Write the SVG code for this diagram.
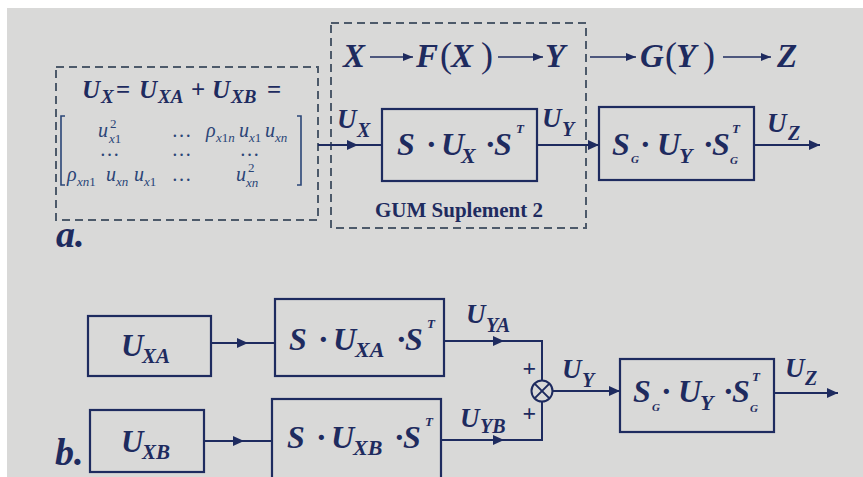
<svg xmlns="http://www.w3.org/2000/svg" width="863" height="477" viewBox="0 0 863 477">
<style>
.m{font-family:"Liberation Serif",serif;font-weight:bold;font-style:italic;fill:#1e2b5f}
.p{font-family:"Liberation Serif",serif;font-weight:normal;font-style:normal;fill:#1e2b5f}
.mx{font-family:"Liberation Serif",serif;font-style:italic;fill:#2a4577;font-size:20px}
.sm{font-size:13px}
.ln{stroke:#1e2b5f;stroke-width:2;fill:none}
.tn{stroke:#1e2b5f;stroke-width:1.6;fill:none}
.bx{stroke:#1e2b5f;stroke-width:2.2;fill:none}
.ds{stroke:#4d5a6a;stroke-width:2;stroke-dasharray:8 5;fill:none}
.gum{font-family:"Liberation Serif",serif;font-weight:bold;font-size:21px;fill:#1e2b5f}
</style>
<defs>
<marker id="ah" markerUnits="userSpaceOnUse" markerWidth="12" markerHeight="10" refX="11" refY="5" orient="auto">
<path d="M0,0 L11,5 L0,10 z" fill="#1e2b5f"/>
</marker>
<marker id="ahs" markerUnits="userSpaceOnUse" markerWidth="11" markerHeight="9" refX="10" refY="4" orient="auto">
<path d="M0,0 L10,4 L0,8 z" fill="#1e2b5f"/>
</marker>
</defs>
<rect x="0" y="0" width="863" height="477" fill="#ffffff"/>
<rect x="7" y="8" width="856" height="469" fill="#d9d9d8"/>

<!-- Part a -->
<g id="matrix-box">
<rect class="ds" x="56" y="67" width="262" height="153"/>
<text class="m" font-size="25"><tspan x="82" y="98">U</tspan><tspan x="101" y="103" font-size="19">X</tspan><tspan x="116" y="98" font-style="normal">=</tspan><tspan x="139" y="98">U</tspan><tspan x="158" y="103" font-size="19">XA</tspan><tspan x="191" y="98" font-style="normal">+</tspan><tspan x="212" y="98">U</tspan><tspan x="231" y="103" font-size="19">XB</tspan><tspan x="267" y="98" font-style="normal">=</tspan></text>
<path d="M65,116 H61 V185 H65" stroke="#2a4577" stroke-width="1.6" fill="none"/>
<path d="M297,116 H301 V185 H297" stroke="#2a4577" stroke-width="1.6" fill="none"/>
<text class="mx"><tspan x="98" y="137">u</tspan><tspan x="110" y="128" class="sm" font-style="normal">2</tspan><tspan x="109" y="143" class="sm">x</tspan><tspan class="sm" font-style="normal">1</tspan></text>
<text class="mx" text-anchor="middle"><tspan x="182" y="137">…</tspan></text>
<text class="mx"><tspan x="206" y="137">ρ</tspan><tspan x="216" y="142" class="sm">x</tspan><tspan class="sm" font-style="normal">1</tspan><tspan class="sm">n</tspan><tspan x="239" y="137">u</tspan><tspan x="249" y="142" class="sm">x</tspan><tspan class="sm" font-style="normal">1</tspan><tspan x="265" y="137">u</tspan><tspan x="275" y="142" class="sm">xn</tspan></text>
<text class="mx" text-anchor="middle"><tspan x="110" y="156">…</tspan><tspan x="182" y="156">…</tspan><tspan x="250" y="156">…</tspan></text>
<text class="mx"><tspan x="67" y="181">ρ</tspan><tspan x="77" y="186" class="sm">xn</tspan><tspan class="sm" font-style="normal">1</tspan><tspan x="106" y="181">u</tspan><tspan x="116" y="186" class="sm">xn</tspan><tspan x="134" y="181">u</tspan><tspan x="144" y="186" class="sm">x</tspan><tspan class="sm" font-style="normal">1</tspan></text>
<text class="mx" text-anchor="middle"><tspan x="182" y="181">…</tspan></text>
<text class="mx"><tspan x="236" y="181">u</tspan><tspan x="248" y="172" class="sm" font-style="normal">2</tspan><tspan x="246" y="187" class="sm">xn</tspan></text>
</g>

<g id="label-a">
<text class="m" font-size="38" x="56" y="247">a.</text>
</g>

<g id="gum-box">
<rect class="ds" x="331" y="23" width="255" height="205"/>
<text class="gum" x="459" y="217" text-anchor="middle">GUM Suplement 2</text>
</g>

<g id="top-row">
<text class="m" font-size="33" x="343" y="67">X</text>
<text font-size="33" y="67"><tspan class="m" x="416">F</tspan><tspan class="p" x="440" font-size="36">(</tspan><tspan class="m" x="451">X</tspan><tspan class="p" x="481" font-size="36">)</tspan></text>
<text class="m" font-size="33" x="545" y="67">Y</text>
<text font-size="33" y="67"><tspan class="m" x="640">G</tspan><tspan class="p" x="665" font-size="36">(</tspan><tspan class="m" x="676">Y</tspan><tspan class="p" x="703" font-size="36">)</tspan></text>
<text class="m" font-size="33" x="777" y="67">Z</text>
</g>

<g id="box-S-top">
<rect class="bx" x="382" y="109" width="155" height="72"/>
<text class="m" font-size="32"><tspan x="397" y="155">S</tspan><tspan x="426" y="155" font-style="normal">·</tspan><tspan x="441" y="155">U</tspan><tspan x="461" y="163" font-size="22">X</tspan><tspan x="485" y="155" font-style="normal">·</tspan><tspan x="494" y="155">S</tspan><tspan x="516" y="133" font-size="13">T</tspan></text>
</g>

<g id="box-SG-top">
<rect class="bx" x="599" y="107" width="155" height="73"/>
<text class="m" font-size="32"><tspan x="612" y="155">S</tspan><tspan x="631" y="163" font-size="11">G</tspan><tspan x="640" y="155" font-style="normal">·</tspan><tspan x="657" y="155">U</tspan><tspan x="679" y="163" font-size="22">Y</tspan><tspan x="703" y="155" font-style="normal">·</tspan><tspan x="712" y="155">S</tspan><tspan x="732" y="133" font-size="13">T</tspan><tspan x="730" y="164" font-size="11">G</tspan></text>
</g>

<!-- Part b -->
<g id="label-b">
<text class="m" font-size="38" x="55" y="465">b.</text>
</g>

<g id="box-UXA">
<rect class="bx" x="88" y="316" width="123" height="60"/>
<text class="m" font-size="31"><tspan x="121" y="356">U</tspan><tspan x="142" y="363" font-size="21">XA</tspan></text>
</g>

<g id="box-UXB">
<rect class="bx" x="90" y="410" width="114" height="62"/>
<text class="m" font-size="31"><tspan x="121" y="452">U</tspan><tspan x="142" y="459" font-size="21">XB</tspan></text>
</g>

<g id="box-S-A">
<rect class="bx" x="275" y="299" width="169" height="77"/>
<text class="m" font-size="32"><tspan x="289" y="350">S</tspan><tspan x="318" y="350" font-style="normal">·</tspan><tspan x="333" y="350">U</tspan><tspan x="355" y="357" font-size="22">XA</tspan><tspan x="396" y="350" font-style="normal">·</tspan><tspan x="405" y="350">S</tspan><tspan x="427" y="328" font-size="13">T</tspan></text>
</g>

<g id="box-S-B">
<rect class="bx" x="272" y="399" width="169" height="80"/>
<text class="m" font-size="32"><tspan x="287" y="448">S</tspan><tspan x="316" y="448" font-style="normal">·</tspan><tspan x="331" y="448">U</tspan><tspan x="353" y="455" font-size="22">XB</tspan><tspan x="394" y="448" font-style="normal">·</tspan><tspan x="403" y="448">S</tspan><tspan x="425" y="426" font-size="13">T</tspan></text>
</g>

<g id="sum-node">
<circle cx="542" cy="391" r="10.5" fill="none" stroke="#1e2b5f" stroke-width="2"/>
<path d="M534.6,383.6 L549.4,398.4 M549.4,383.6 L534.6,398.4" stroke="#1e2b5f" stroke-width="2"/>
<text class="m" font-size="24" font-style="normal" x="529" y="376" text-anchor="middle">+</text>
<text class="m" font-size="24" font-style="normal" x="529" y="421" text-anchor="middle">+</text>
</g>

<g id="box-SG-bottom">
<rect class="bx" x="620" y="359" width="154" height="73"/>
<text class="m" font-size="32"><tspan x="633" y="402">S</tspan><tspan x="652" y="411" font-size="11">G</tspan><tspan x="661" y="402" font-style="normal">·</tspan><tspan x="678" y="402">U</tspan><tspan x="700" y="410" font-size="22">Y</tspan><tspan x="723" y="402" font-style="normal">·</tspan><tspan x="732" y="402">S</tspan><tspan x="752" y="381" font-size="13">T</tspan><tspan x="750" y="412" font-size="11">G</tspan></text>
</g>

<g id="connectors">
<path class="tn" d="M370,57 H413" marker-end="url(#ahs)"/>
<path class="tn" d="M498,57 H543" marker-end="url(#ahs)"/>
<path class="tn" d="M590,57 H636" marker-end="url(#ahs)"/>
<path class="tn" d="M723,57 H771" marker-end="url(#ahs)"/>
<path class="ln" d="M318,145 H358" marker-end="url(#ah)"/>
<path class="ln" d="M356,145 H382"/>
<path class="ln" d="M537,145 H599" marker-end="url(#ah)"/>
<path class="ln" d="M754,145 H820" marker-end="url(#ah)"/>
<path class="ln" d="M211,343 H248" marker-end="url(#ah)"/>
<path class="ln" d="M246,343 H275"/>
<path class="ln" d="M204,441 H244" marker-end="url(#ah)"/>
<path class="ln" d="M242,441 H272"/>
<path class="ln" d="M444,341 H504" marker-end="url(#ah)"/>
<path class="ln" d="M502,341 H542 V380.5"/>
<path class="ln" d="M441,440 H504" marker-end="url(#ah)"/>
<path class="ln" d="M502,440 H542 V401.5"/>
<path class="ln" d="M552.5,391 H620" marker-end="url(#ah)"/>
<path class="ln" d="M774,393 H838" marker-end="url(#ah)"/>
</g>

<g id="edge-labels">
<text class="m" font-size="27"><tspan x="337" y="128">U</tspan><tspan x="357" y="137" font-size="20">X</tspan></text>
<text class="m" font-size="27"><tspan x="542" y="127">U</tspan><tspan x="562" y="136" font-size="20">Y</tspan></text>
<text class="m" font-size="27"><tspan x="767" y="132">U</tspan><tspan x="788" y="140" font-size="20">Z</tspan></text>
<text class="m" font-size="27"><tspan x="466" y="323">U</tspan><tspan x="486" y="332" font-size="20">YA</tspan></text>
<text class="m" font-size="27"><tspan x="460" y="427">U</tspan><tspan x="480" y="433" font-size="20">YB</tspan></text>
<text class="m" font-size="27"><tspan x="562" y="378">U</tspan><tspan x="582" y="387" font-size="20">Y</tspan></text>
<text class="m" font-size="27"><tspan x="785" y="377">U</tspan><tspan x="805" y="385" font-size="20">Z</tspan></text>
</g>
</svg>
